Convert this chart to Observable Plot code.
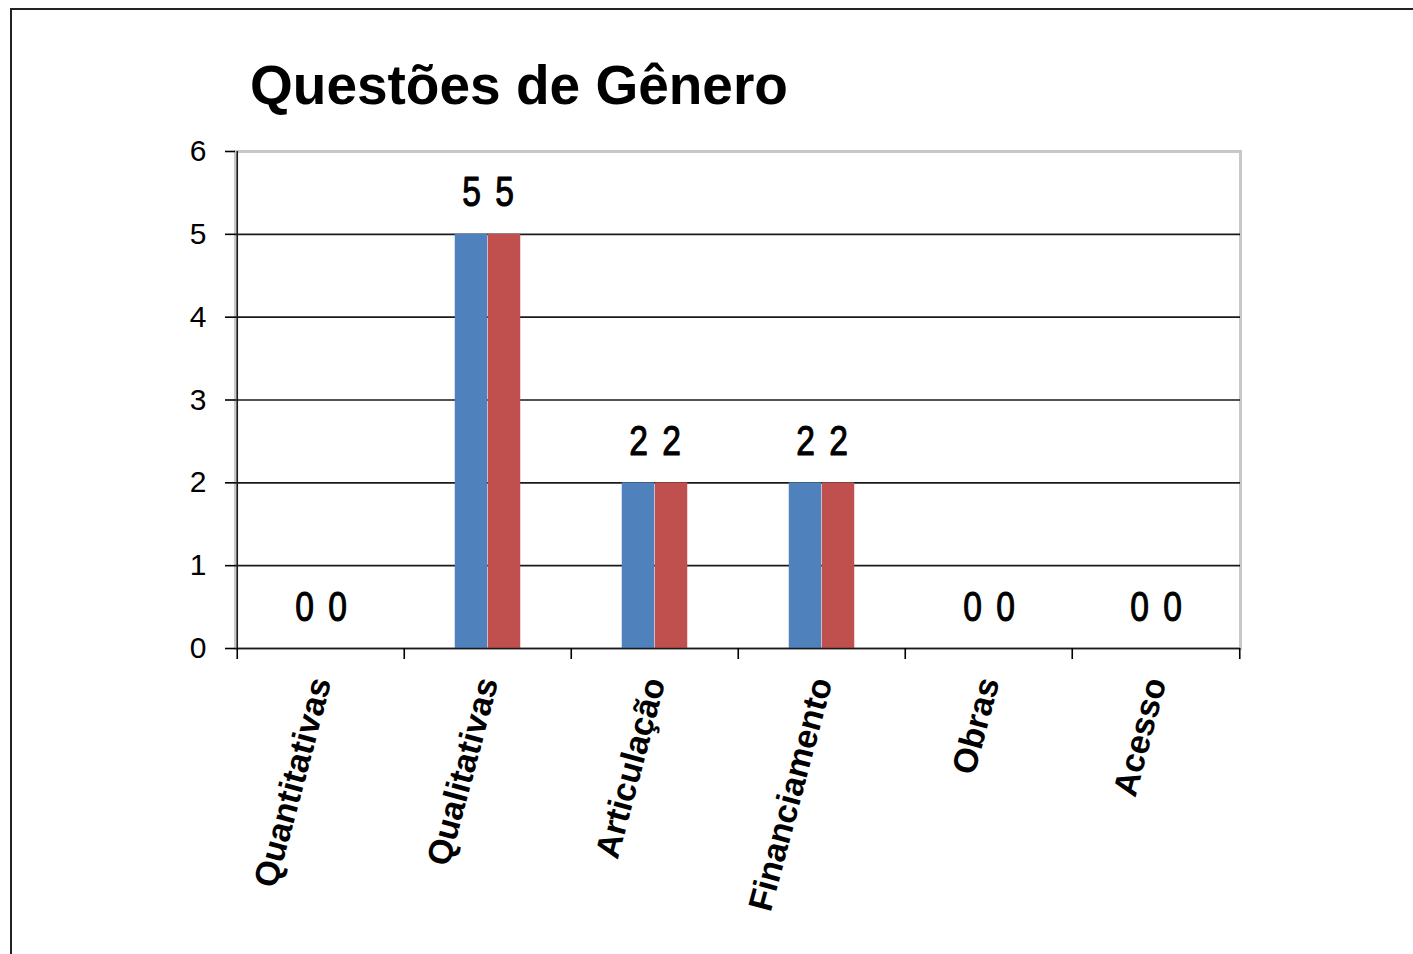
<!DOCTYPE html>
<html>
<head>
<meta charset="utf-8">
<script src="https://cdn.jsdelivr.net/npm/d3@7"></script>
<script src="https://cdn.jsdelivr.net/npm/@observablehq/plot@0.6"></script>
<style>
  html, body { margin: 0; padding: 0; background: #fff; }
  #wrap { position: relative; width: 1413px; height: 954px; overflow: hidden; }
  #border { position: absolute; left: 10px; top: 8px; width: 1420px; height: 960px;
            border-left: 2px solid #222; border-top: 2px solid #222; }
  #title { position: absolute; left: 250px; top: 58px; margin: 0;
           font-family: "Liberation Sans", Arial, sans-serif; font-weight: bold;
           font-size: 55px; line-height: 55px; color: #000; white-space: nowrap; }
  #chart { position: absolute; left: 0; top: 0; }
</style>
</head>
<body>
<div id="wrap">
  <div id="border"></div>
  <div id="chart"></div>
  <h1 id="title">Questões de Gênero</h1>
</div>
<script>
const categories = ["Quantitativas", "Qualitativas", "Articulação", "Financiamento", "Obras", "Acesso"];
const seriesNames = ["Série1", "Série2"];
const series1 = [0, 5, 2, 2, 0, 0];
const series2 = [0, 5, 2, 2, 0, 0];
const yTicks = [0, 1, 2, 3, 4, 5, 6];
const colors = ["#4F81BD", "#C0504D"];

const rows = [];
categories.forEach((c, i) => {
  rows.push({category: c, series: seriesNames[0], value: series1[i]});
  rows.push({category: c, series: seriesNames[1], value: series2[i]});
});

const W = 1413, H = 954;
const mL = 235, mR = W - 1240, mT = 151, mB = H - 648;
const bw = (W - mL - mR) / categories.length;   // band width
const barW = bw * 0.197;                        // single bar width

const s1 = rows.filter(d => d.series === seriesNames[0]);
const s2 = rows.filter(d => d.series === seriesNames[1]);

const labelFont = {fontFamily: "'Liberation Sans', Arial, sans-serif", fontSize: 42, fontWeight: "normal", stroke: "#000", strokeWidth: 1.1, className: "vlabel"};

const chart = Plot.plot({
  width: W, height: H,
  marginLeft: mL, marginRight: mR, marginTop: mT, marginBottom: mB,
  style: {fontFamily: "'Liberation Sans', Arial, sans-serif", fontSize: "29px", color: "#000", background: "transparent", overflow: "visible"},
  x: {type: "band", domain: categories, paddingInner: 0, paddingOuter: 0, label: null},
  y: {domain: [0, 6], label: null},
  color: {domain: seriesNames, range: colors},
  marks: [
    Plot.frame({stroke: "#c8c8c8", strokeWidth: 3}),
    Plot.gridY(yTicks.filter(t => t > 0 && t < 6), {stroke: "#1a1a1a", strokeOpacity: 1, strokeWidth: 1.6}),
    Plot.barY(s1, {x: "category", y: "value", fill: "series", insetLeft: bw / 2 - barW, insetRight: bw / 2}),
    Plot.barY(s2, {x: "category", y: "value", fill: "series", insetLeft: bw / 2, insetRight: bw / 2 - barW}),
    Plot.ruleY([0], {stroke: "#1a1a1a", strokeWidth: 1.6}),
    Plot.ruleX([categories[0]], {x: d => d, dx: -bw / 2, stroke: "#1a1a1a", strokeWidth: 1.6}),
    Plot.text(s1, {x: "category", y: "value", text: d => String(d.value), dx: -barW / 2, dy: -28, lineAnchor: "bottom", ...labelFont, fill: "#000"}),
    Plot.text(s2, {x: "category", y: "value", text: d => String(d.value), dx: barW / 2, dy: -28, lineAnchor: "bottom", ...labelFont, fill: "#000"}),
    Plot.axisY({ticks: yTicks, tickSize: 10, tickPadding: 19, tickFormat: d => String(d), label: null, fontSize: 30, strokeWidth: 1.6}),
    Plot.axisX({tickSize: 11, tickFormat: () => "", dx: -bw / 2, label: null, strokeWidth: 1.6}),
    Plot.axisX({ticks: [categories[categories.length - 1]], tickSize: 11, tickFormat: () => "", dx: bw / 2, label: null, strokeWidth: 1.6}),
    Plot.axisX({tickSize: 0, tickRotate: -75, tickPadding: 30, label: null, fontSize: 34, fontWeight: "bold"})
  ]
});
// condense the value labels (narrow typeface look)
d3.select(chart).selectAll(".vlabel text").each(function() {
  const t = this.getAttribute("transform") || "";
  this.setAttribute("transform", t + " scale(0.8,1)");
});
document.getElementById("chart").appendChild(chart);
</script>
</body>
</html>
